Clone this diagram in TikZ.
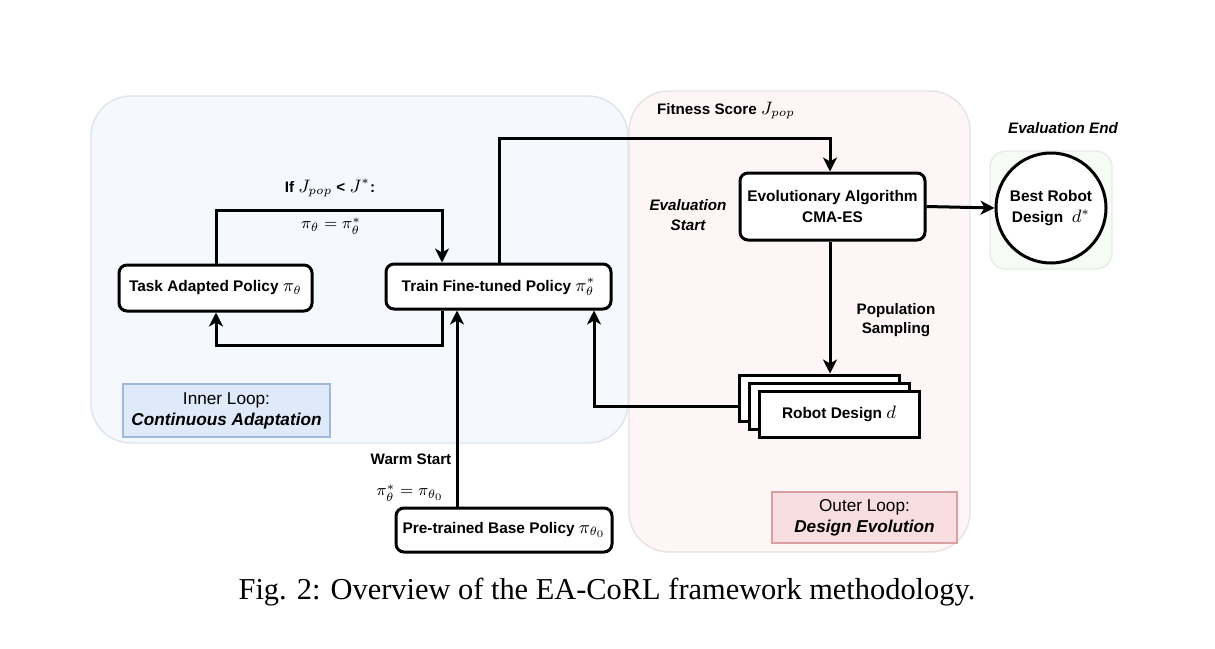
\documentclass[tikz,border=0pt]{standalone}
\usepackage{fontspec}
\setmainfont{Liberation Serif}
\setsansfont{Liberation Sans}
\usetikzlibrary{arrows.meta}
\definecolor{bluereg}{RGB}{245,249,253}
\definecolor{bluereged}{RGB}{222,228,235}
\definecolor{pinkreg}{RGB}{254,246,246}
\definecolor{pinkreged}{RGB}{232,226,226}
\definecolor{greenreg}{RGB}{247,251,245}
\definecolor{greenreged}{RGB}{230,236,228}
\definecolor{innerfill}{RGB}{222,233,250}
\definecolor{inneredge}{RGB}{160,184,218}
\definecolor{outerfill}{RGB}{248,222,224}
\definecolor{outeredge}{RGB}{218,160,160}
\newcommand{\mth}[1]{{\fontsize{8.8}{9}\selectfont$#1$}}
\begin{document}
\begin{tikzpicture}[x=0.5pt,y=-0.5pt,
  lbl/.style={font=\sffamily\bfseries\fontsize{7.6}{9}\selectfont, inner sep=0pt},
  box/.style={draw=black, line width=1.5pt, rounded corners=4pt, fill=white, inner sep=0pt,
    font=\sffamily\bfseries\fontsize{7.7}{10.5}\selectfont, align=center},
  sq/.style={draw=black, line width=1.5pt, fill=white, inner sep=0pt,
    font=\sffamily\bfseries\fontsize{7.7}{9.2}\selectfont, minimum width=80pt, minimum height=23pt},
  arr/.style={line width=1.5pt, -{Stealth[length=7pt,width=7pt,inset=2pt]}},
  region/.style={line width=0.7pt, rounded corners=20pt},
  tag/.style={line width=1.3pt, inner sep=0pt, align=center, font=\sffamily\fontsize{8.6}{10.5}\selectfont}
]
\useasboundingbox (0,0) rectangle (1215,648);
% regions
\fill[region, fill=bluereg, draw=bluereged] (91,96) rectangle (628,443);
\fill[region, fill=pinkreg, draw=pinkreged] (629,91) rectangle (970,552);
\draw[line width=0.7pt, rounded corners=8pt, fill=greenreg, draw=greenreged] (990,151) rectangle (1112,269);
% region tags
\node[tag, fill=innerfill, draw=inneredge, minimum width=103.5pt, minimum height=26.5pt] (inner) at (226.5,410.5)
  {Inner Loop:\\\textbf{\itshape Continuous Adaptation}};
\node[tag, fill=outerfill, draw=outeredge, minimum width=92.5pt, minimum height=25.5pt] (outer) at (864.5,517.5)
  {Outer Loop:\\\textbf{\itshape Design Evolution}};
% main nodes
\node[box, minimum width=96.5pt, minimum height=23pt] (task) at (215.5,288) {Task Adapted Policy \mth{\pi_\theta}};
\node[box, minimum width=112.5pt, minimum height=22.5pt] (train) at (498.5,286.5) {Train Fine-tuned Policy \mth{\pi_\theta^*}};
\node[box, minimum width=92.5pt, minimum height=33.5pt] (ea) at (832.5,206.5) {Evolutionary Algorithm\\CMA-ES};
\node[draw=black, line width=1.5pt, circle, fill=white, minimum size=55pt, inner sep=0pt, align=center,
  font=\sffamily\bfseries\fontsize{7.7}{10.8}\selectfont] (best) at (1051,208) {Best Robot\\Design~~\mth{d^*}};
\node[sq] (rdb) at (819,398) {};
\node[sq] (rdm) at (829,406) {};
\node[sq] (rd) at (839,414) {Robot Design \mth{d}};
\node[box, minimum width=108pt, minimum height=22pt] (pre) at (504,530) {Pre-trained Base Policy \mth{\pi_{\theta_0}}};
% coordinates
\coordinate (c1) at (442,210);
\coordinate (c2) at (442,345);
\coordinate (c3) at (499,138);
\coordinate (c4) at (830,138);
\coordinate (c5) at (594,406);
\coordinate (c6) at (457,500);
\coordinate (c7) at (216,345);
% connectors
\draw[arr] (task.north -| c7) |- (c1) -- (c1 |- train.north);
\draw[arr] (c2 |- train.south) -- (c2) -- (c7) -- (c7 |- task.south);
\draw[arr] (c3 |- train.north) -- (c3) -- (c4) -- (c4 |- ea.north);
\draw[arr] (ea.east) -- (best.west);
\draw[arr] (c4 |- ea.south) -- (c4 |- rdb.north);
\draw[arr] (c5 -| rdb.west) -- (c5) -- (c5 |- train.south);
\draw[arr] (c6 |- pre.north) -- (c6 |- train.south);
% labels
\node[lbl] (l1) at (330,188) {If \mth{J_{pop}} < \mth{J^*}:};
\node[lbl, font=\fontsize{8.5}{9}\selectfont] (l2) at (331,226) {$\pi_\theta = \pi_\theta^*$};
\node[lbl] (l3) at (726,111) {Fitness Score \mth{J_{pop}}};
\node[lbl, font=\sffamily\bfseries\itshape\fontsize{7.6}{9}\selectfont] (l4) at (1063,128) {Evaluation End};
\node[lbl, font=\sffamily\bfseries\itshape\fontsize{7.6}{9.6}\selectfont, align=center] (l5) at (688,215) {Evaluation\\Start};
\node[lbl, align=center, font=\sffamily\bfseries\fontsize{7.6}{9.6}\selectfont] (l6) at (896,320) {Population\\Sampling};
\node[lbl] (l7) at (411,459) {Warm Start};
\node[lbl, font=\fontsize{8.5}{9}\selectfont] (l8) at (410,493) {$\pi_\theta^* = \pi_{\theta_0}$};
\node[inner sep=0pt, font=\fontsize{15.2}{18}\selectfont] (cap) at (607,592) {Fig. 2: Overview of the EA-CoRL framework methodology.};
\end{tikzpicture}
\end{document}
